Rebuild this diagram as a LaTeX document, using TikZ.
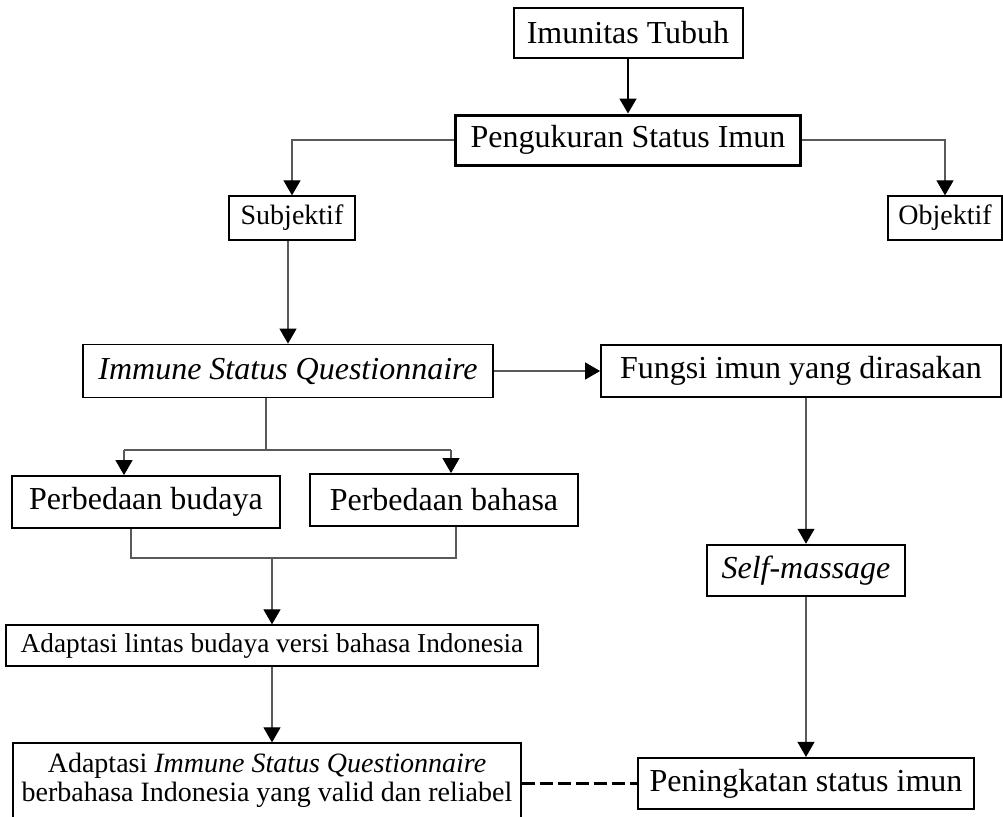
\documentclass[tikz,border=0pt]{standalone}
\usepackage{fontspec}
\setmainfont{Liberation Serif}
\usetikzlibrary{arrows.meta}
\newcommand{\bigtxt}{\fontsize{32}{36}\selectfont}
\newcommand{\smalltxt}{\fontsize{28}{29.5}\selectfont}
\tikzset{
  box/.style={draw=black, fill=white, inner sep=0pt, align=center, line width=1.8pt, font=\bigtxt},
  smallbox/.style={box, font=\smalltxt, line width=1.3pt},
  conn/.style={draw=black!65, line width=1.1pt},
  arr/.style={conn, -{Triangle[length=15pt,width=17pt,color=black]}},
  boldarr/.style={draw=black, line width=1.8pt, -{Triangle[length=15pt,width=17pt]}},
  link/.style={draw=black, line width=2.8pt, dash pattern=on 13pt off 5pt}
}
\begin{document}
\begin{tikzpicture}[x=1pt,y=-1pt]
\useasboundingbox (0,0) rectangle (1003,816);
% boxes
\node[box, minimum width=229pt, minimum height=50pt, line width=2pt] (imt) at (628,33) {Imunitas Tubuh};
\node[box, minimum width=345pt, minimum height=50pt, line width=3pt] (peng) at (628,140) {Pengukuran Status Imun};
\node[smallbox, minimum width=126pt, minimum height=44pt] (subj) at (292,218) {Subjektif};
\node[smallbox, minimum width=114pt, minimum height=44pt] (obj) at (945,218) {Objektif};
\node[box, minimum width=410pt, minimum height=53pt] (isq) at (288,371) {\itshape Immune Status Questionnaire};
\node[box, minimum width=400pt, minimum height=52pt] (fungsi) at (801,371) {Fungsi imun yang dirasakan};
\node[box, minimum width=268pt, minimum height=52pt] (budaya) at (146,502) {Perbedaan budaya};
\node[box, minimum width=268pt, minimum height=52pt] (bahasa) at (444,500) {Perbedaan bahasa};
\node[smallbox, minimum width=532pt, minimum height=41pt, font=\fontsize{27.3}{30}\selectfont] (lintas) at (272,645.5) {Adaptasi lintas budaya versi bahasa Indonesia};
\node[smallbox, minimum width=508pt, minimum height=75pt] (adisq) at (267,780.5)
  {Adaptasi \textit{Immune Status Questionnaire}\\berbahasa Indonesia yang valid dan reliabel};
\node[box, minimum width=198pt, minimum height=51pt, line width=2.5pt] (self) at (806,570.5) {\itshape Self-massage};
\node[box, minimum width=336pt, minimum height=51pt, line width=2.2pt] (ping) at (806,783.5) {Peningkatan status imun};

% routing points
\coordinate (br) at (266,450);
\coordinate (brl) at (124,450);
\coordinate (brr) at (451,450);
\coordinate (mgl) at (131,558);
\coordinate (mgr) at (456,558);
\coordinate (mg) at (272,558);

% connectors
\draw[boldarr] (imt.south) -- (peng.north);
\draw[arr] (peng.west) -| (subj.north);
\draw[arr] (peng.east) -| (obj.north);
\draw[arr] ([xshift=-4pt]subj.south) -- ([xshift=-4pt]subj.south |- isq.north);
\draw[arr] (isq.east) -- (fungsi.west);
\draw[conn] (br |- isq.south) -- (br);
\draw[conn] (brl) -- (brr);
\draw[arr] (brl) -- (brl |- budaya.north);
\draw[arr] (brr) -- (brr |- bahasa.north);
\draw[conn] (mgl |- budaya.south) -- (mgl) -- (mgr) -- (mgr |- bahasa.south);
\draw[arr] (mg) -- (mg |- lintas.north);
\draw[arr] (lintas.south -| mg) -- (mg |- adisq.north);
\draw[arr] (fungsi.south -| self.north) -- (self.north);
\draw[arr] (self.south) -- (ping.north);
\draw[link] (adisq.east |- ping.west) -- (ping.west);
\end{tikzpicture}
\end{document}
